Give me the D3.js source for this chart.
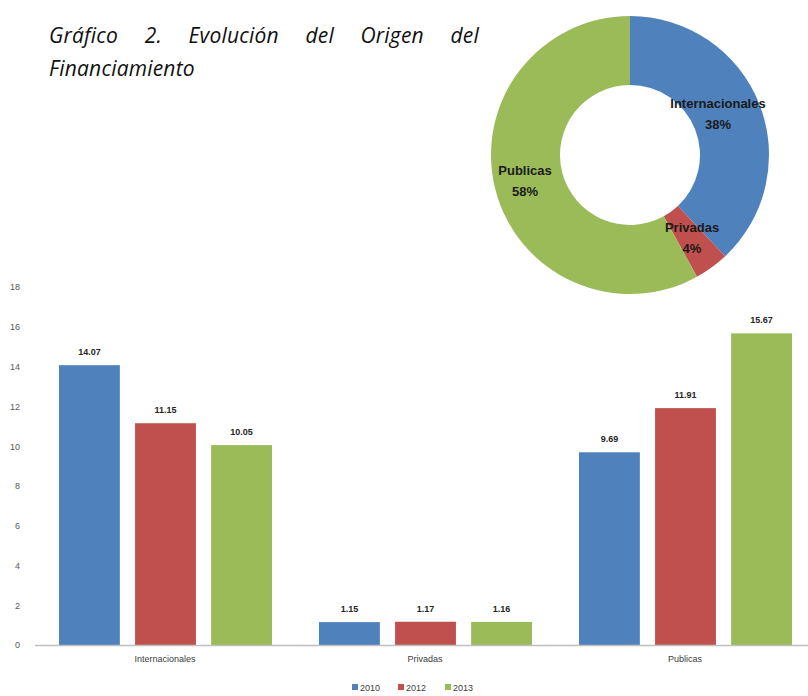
<!DOCTYPE html>
<html lang="es">
<head><meta charset="utf-8">
<title>Evolución del Origen del Financiamiento</title>
<style>
body {
  margin: 0;
  background: #ffffff;
  font-family: "Liberation Sans", Arial, sans-serif;
}
#wrap {
  position: relative;
  width: 808px;
  height: 696px;
}
.title {
  position: absolute;
  left: 49px;
  top: 19px;
  width: 430px;
  font-family: "Open Sans", Lato, sans-serif;
  font-style: italic;
  font-size: 21px;
  letter-spacing: 0.2px;
  line-height: 33px;
  color: #111;
  text-align: justify;
  text-align-last: left;
}
svg { position: absolute; left: 0; top: 0; }
</style>
</head>
<body>
<div id="wrap">
  <div class="title">Gráfico 2. Evolución del Origen del Financiamiento</div>
  <svg id="chart"></svg>
</div>

<script src="https://cdn.jsdelivr.net/npm/d3@7/dist/d3.min.js"></script>
<script>

// data
var categories = ["Internacionales", "Privadas", "Publicas"];
var years = ["2010", "2012", "2013"];
var values2010 = [14.07, 1.15, 9.69];
var values2012 = [11.15, 1.17, 11.91];
var values2013 = [10.05, 1.16, 15.67];
var yTicks = [0, 2, 4, 6, 8, 10, 12, 14, 16, 18];

var pieLabels = ["Internacionales", "Privadas", "Publicas"];
var pieShares = [38, 4, 58];

var colors = ["#4f81bd", "#c0504d", "#9bbb59"];

var width = 808, height = 696;

var svg = d3.select("#chart")
    .attr("width", width)
    .attr("height", height);

// ---- bar chart ----
var series = [values2010, values2012, values2013];
var rows = categories.map(function(c, i) {
  return {cat: c, vals: series.map(function(s, j) { return {year: years[j], v: s[i], k: j}; })};
});

var x0 = d3.scaleBand()
    .domain(categories)
    .range([35, 815])
    .paddingInner(0)
    .paddingOuter(0);

var x1 = d3.scaleBand()
    .domain(years)
    .range([24, 237])
    .paddingInner(0.2);

var y = d3.scaleLinear()
    .domain([0, 18])
    .range([645, 287]);

var yAxis = svg.append("g")
    .attr("transform", "translate(20,0)")
    .call(d3.axisLeft(y).tickValues(yTicks).tickSize(0).tickPadding(0));
yAxis.select(".domain").remove();
yAxis.selectAll("text")
    .attr("fill", "#595959")
    .style("font-size", "9px")
    .style("font-family", "'Liberation Sans', Arial, sans-serif");

var groups = svg.append("g").selectAll("g")
    .data(rows)
    .enter().append("g")
    .attr("transform", function(d) { return "translate(" + x0(d.cat) + ",0)"; });

groups.selectAll("rect")
    .data(function(d) { return d.vals; })
    .enter().append("rect")
    .attr("x", function(d) { return x1(d.year); })
    .attr("y", function(d) { return y(d.v); })
    .attr("width", x1.bandwidth())
    .attr("height", function(d) { return y(0) - y(d.v); })
    .attr("fill", function(d) { return colors[d.k]; });

groups.selectAll("text.val")
    .data(function(d) { return d.vals; })
    .enter().append("text")
    .attr("class", "val")
    .attr("x", function(d) { return x1(d.year) + x1.bandwidth() / 2; })
    .attr("y", function(d) { return y(d.v) - 10; })
    .attr("text-anchor", "middle")
    .attr("fill", "#262626")
    .style("font-size", "9px")
    .style("font-weight", "bold")
    .text(function(d) { return d3.format(".2f")(d.v); });

// x axis
var xAxis = svg.append("g")
    .attr("transform", "translate(0," + y(0) + ")")
    .call(d3.axisBottom(x0).tickSize(0).tickPadding(11));
xAxis.select(".domain")
    .attr("stroke", "#bfbfbf")
    .attr("stroke-width", 1.5)
    .attr("d", "M35,0.5H808");
xAxis.selectAll("text")
    .attr("fill", "#404040")
    .style("font-size", "9px")
    .style("font-family", "'Liberation Sans', Arial, sans-serif");

// legend
var legendX = [352, 398, 445];
var legend = svg.append("g").selectAll("g")
    .data(years)
    .enter().append("g")
    .attr("transform", function(d, i) { return "translate(" + legendX[i] + ",684)"; });
legend.append("rect")
    .attr("width", 6).attr("height", 6)
    .attr("fill", function(d, i) { return colors[i]; });
legend.append("text")
    .attr("x", 8).attr("y", 6.5)
    .attr("fill", "#404040")
    .style("font-size", "9px")
    .text(function(d) { return d; });

// ---- donut ----
var cx = 630, cy = 155, rOut = 139, rIn = 70;

var pie = d3.pie().sort(null).value(function(d) { return d; });
var arc = d3.arc().innerRadius(rIn).outerRadius(rOut);

var donut = svg.append("g")
    .attr("transform", "translate(" + cx + "," + cy + ")");

var arcs = pie(pieShares);

donut.selectAll("path")
    .data(arcs)
    .enter().append("path")
    .attr("d", arc)
    .attr("fill", function(d, i) { return colors[i]; });

// label positions picked to sit where the original chart had them
var labelPos = [[88, -47], [62, 77], [-105, 20]];
var lbl = donut.selectAll("g.lbl")
    .data(arcs)
    .enter().append("g")
    .attr("class", "lbl")
    .attr("transform", function(d, i) { return "translate(" + labelPos[i][0] + "," + labelPos[i][1] + ")"; });
lbl.append("text")
    .attr("text-anchor", "middle")
    .attr("fill", "#1a1a1a")
    .style("font-size", "13px")
    .style("font-weight", "bold")
    .text(function(d, i) { return pieLabels[i]; });
lbl.append("text")
    .attr("text-anchor", "middle")
    .attr("y", 21)
    .attr("fill", "#1a1a1a")
    .style("font-size", "13px")
    .style("font-weight", "bold")
    .text(function(d, i) { return pieShares[i] + "%"; });

</script>
</body>
</html>
